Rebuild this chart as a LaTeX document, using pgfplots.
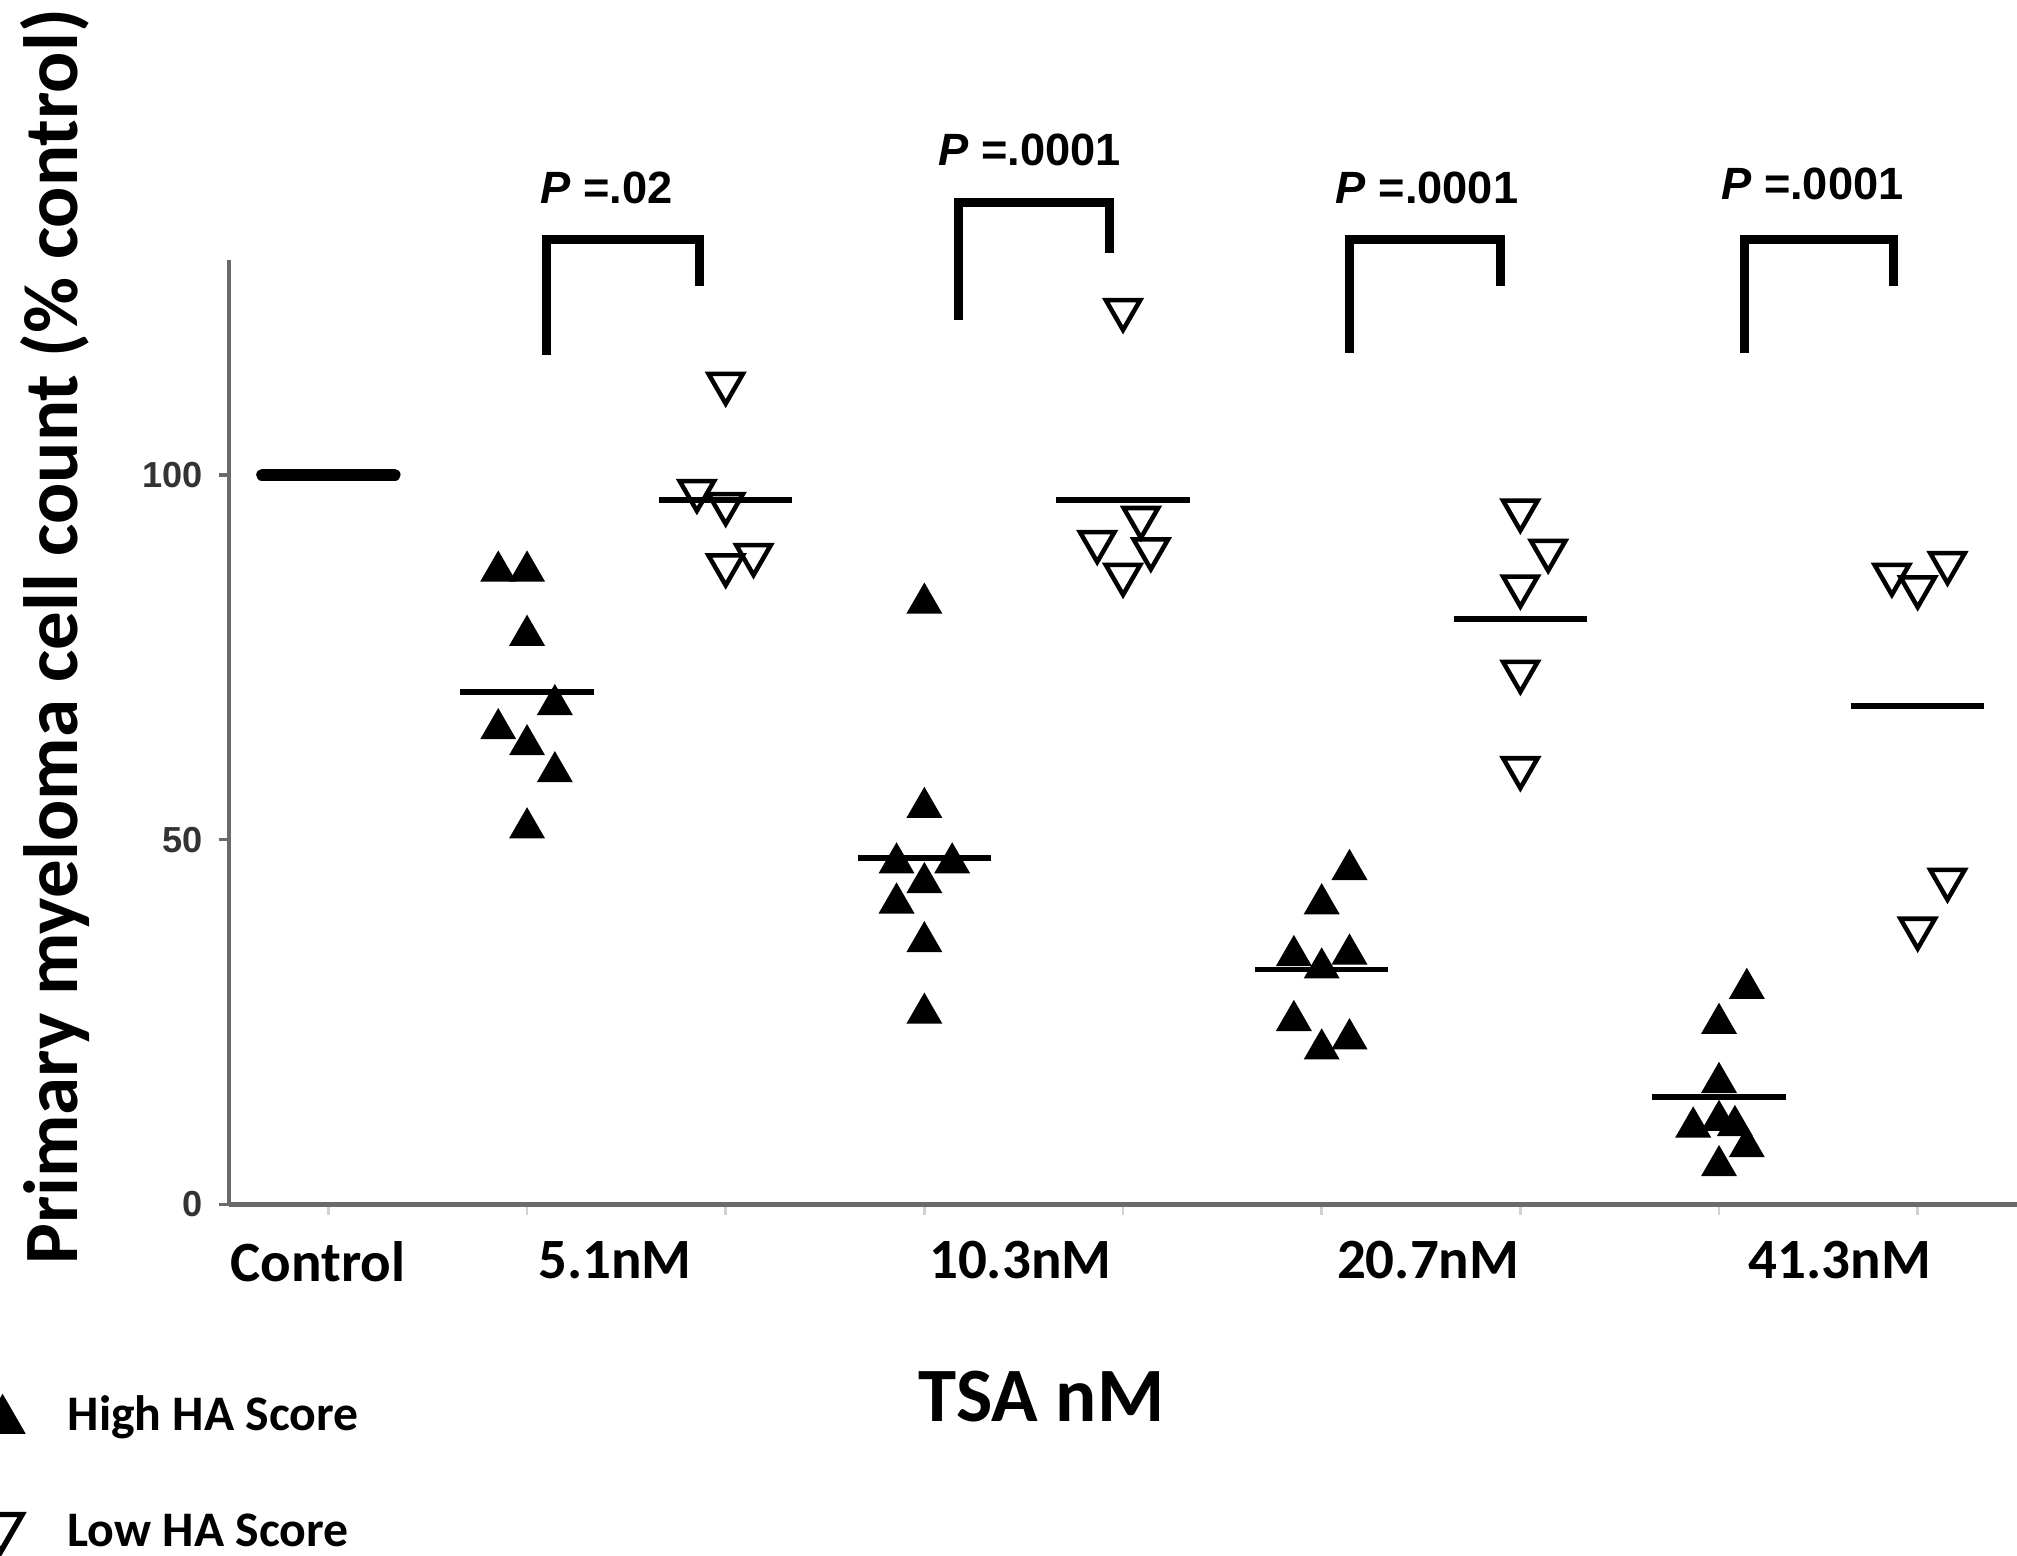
\documentclass[border=0pt]{standalone}
\usepackage{fontspec}
\setmainfont{Carlito}
\newfontfamily\arialf{Liberation Sans}
\usepackage{pgfplots}
\pgfplotsset{compat=1.18}
\definecolor{axgray}{HTML}{6A6A6A}

\begin{document}
\begin{tikzpicture}
\begin{axis}[
    x=1.544cm, y=0.0567cm,
    xmin=0, xmax=9, ymin=0, ymax=129.5,
    axis lines=left,
    axis line style={-, draw=axgray, line width=1pt},
    clip=false,
    tick align=outside,
    major tick length=0.08cm,
    ytick={0,50,100},
    ytick style={draw=axgray, line width=0.8pt},
    yticklabel style={font=\arialf\bfseries\fontsize{8}{9}\selectfont, text=black!80},
    /pgf/number format/assume math mode=true,
    xtick={0.5,1.5,...,8.5},
    xticklabels={},
    xtick style={draw=black!18, line width=0.6pt},
    extra x ticks={0.447,1.943,3.983,6.036,8.109},
    extra x tick labels={Control,5.1nM,10.3nM,20.7nM,41.3nM},
    extra x tick style={major tick length=0pt,
        tick label style={font=\bfseries\fontsize{12.6}{14}\selectfont, yshift=-0.16cm}},
]
% High HA score
\addplot[only marks, mark=triangle*, mark size=4.2pt, black] coordinates {
    (1.355,86.8) (1.50,86.8) (1.50,78.0) (1.64,68.5) (1.355,65.2) (1.50,63.0) (1.64,59.3) (1.50,51.6)
    (3.50,82.4) (3.50,54.4) (3.36,46.8) (3.64,46.8) (3.50,44.1) (3.36,41.3) (3.50,36.0) (3.50,26.2)
    (5.64,45.9) (5.50,41.2) (5.36,34.1) (5.64,34.3) (5.50,32.4) (5.36,25.2) (5.50,21.3) (5.64,22.7)
    (7.64,29.6) (7.50,24.8) (7.50,16.7) (7.50,11.5) (7.37,10.6) (7.58,10.8) (7.64,7.9) (7.50,5.3)
};
% Low HA score
\addplot[only marks, mark=triangle, mark size=4.4pt, mark options={rotate=180, line width=1pt}, black] coordinates {
    (2.50,112.5) (2.355,97.8) (2.50,96.0) (2.50,87.6) (2.64,89.0)
    (4.50,122.6) (4.59,94.1) (4.37,90.8) (4.64,89.8) (4.50,86.3)
    (6.50,95.1) (6.64,89.6) (6.50,84.7) (6.50,73.0) (6.50,59.8)
    (8.37,86.3) (8.50,84.6) (8.65,87.9) (8.65,44.5) (8.50,37.8)
};

% key below the plot (partly cut off at the left edge, as in the original)
\addplot[only marks, mark=triangle*, mark size=5.5pt, black] coordinates {(-1.14,-29.6)};
\addplot[only marks, mark=triangle, mark size=5.5pt, mark options={rotate=180, line width=1.2pt}, black] coordinates {(-1.15,-44.2)};
\node[anchor=base west, inner sep=0pt, font=\bfseries\fontsize{11}{13}\selectfont] at (axis cs:-0.817,-31.0) {High HA Score};
\node[anchor=base west, inner sep=0pt, font=\bfseries\fontsize{11}{13}\selectfont] at (axis cs:-0.817,-46.9) {Low HA Score};

% control and group means
\addplot[black, line width=2.5pt, line cap=round] coordinates {(0.165,100) (0.835,100)};
\addplot[black, line width=1.3pt] coordinates {(1.165,70.2) (1.835,70.2)};
\addplot[black, line width=1.3pt] coordinates {(2.165,96.6) (2.835,96.6)};
\addplot[black, line width=1.3pt] coordinates {(3.165,47.5) (3.835,47.5)};
\addplot[black, line width=1.3pt] coordinates {(4.165,96.6) (4.835,96.6)};
\addplot[black, line width=1.3pt] coordinates {(5.165,32.2) (5.835,32.2)};
\addplot[black, line width=1.3pt] coordinates {(6.165,80.3) (6.835,80.3)};
\addplot[black, line width=1.3pt] coordinates {(7.165,14.7) (7.835,14.7)};
\addplot[black, line width=1.3pt] coordinates {(8.165,68.3) (8.835,68.3)};

% significance brackets
\addplot[black, line width=2pt] coordinates {(1.60,116.5) (1.60,132.3) (2.37,132.3) (2.37,125.9)};
\addplot[black, line width=2pt] coordinates {(3.67,121.3) (3.67,137.4) (4.43,137.4) (4.43,130.4)};
\addplot[black, line width=2pt] coordinates {(5.64,116.7) (5.64,132.3) (6.40,132.3) (6.40,125.9)};
\addplot[black, line width=2pt] coordinates {(7.63,116.7) (7.63,132.3) (8.38,132.3) (8.38,125.9)};

\node[font=\arialf\bfseries\fontsize{10}{12}\selectfont] at (axis cs:1.90,139.4) {\textit{P} =.02};
\node[font=\arialf\bfseries\fontsize{10}{12}\selectfont] at (axis cs:4.03,144.6) {\textit{P} =.0001};
\node[font=\arialf\bfseries\fontsize{10}{12}\selectfont] at (axis cs:6.03,139.4) {\textit{P} =.0001};
\node[font=\arialf\bfseries\fontsize{10}{12}\selectfont] at (axis cs:7.97,139.9) {\textit{P} =.0001};

\node[rotate=90, font=\bfseries\fontsize{17}{20}\selectfont] at (axis cs:-0.874,77.8)
    {Primary myeloma cell count (\% control)};
\node[font=\bfseries\fontsize{17}{20}\selectfont] at (axis cs:4.09,-26.3) {TSA nM};

\coordinate (bl) at (axis cs:-1.153,-48.1);
\coordinate (tr) at (axis cs:9,165.1);
\end{axis}
\pgfresetboundingbox
\path[use as bounding box] (bl) rectangle (tr);
\end{tikzpicture}
\end{document}
